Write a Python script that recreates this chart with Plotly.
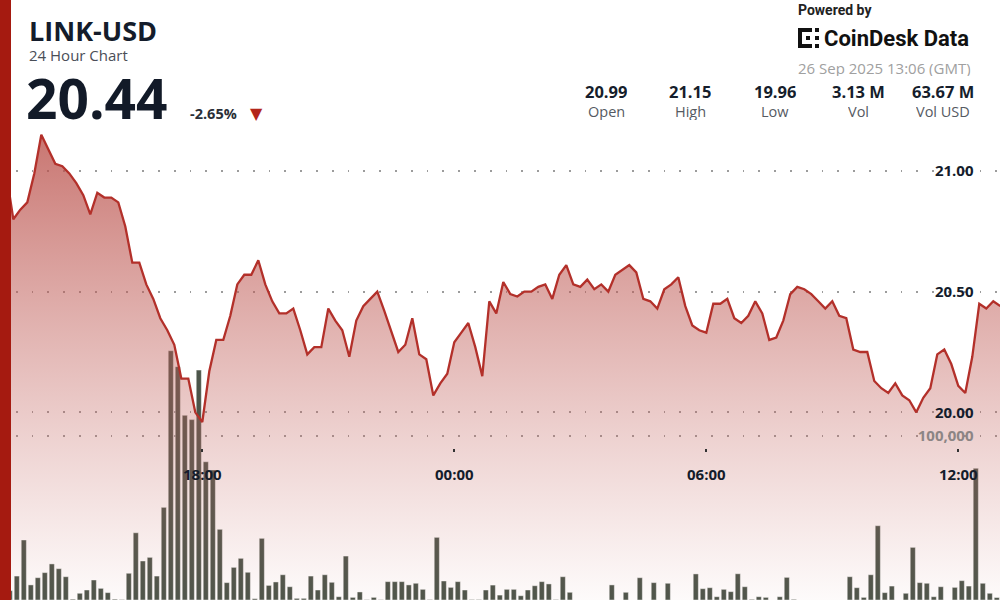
import pandas as pd
import plotly.graph_objects as go

# LINK-USD, 10-minute samples from 25 Sep 2025 13:20 to 26 Sep 2025 13:00 (GMT)
start_time = "2025-09-25 13:20"

price = [
    20.99, 20.80, 20.84, 20.87, 20.99, 21.15, 21.09, 21.03, 21.02, 20.99,
    20.95, 20.90, 20.82, 20.91, 20.89, 20.89, 20.87, 20.77, 20.62, 20.62,
    20.53, 20.47, 20.39, 20.34, 20.28, 20.14, 20.14, 20.00, 19.96, 20.17,
    20.30, 20.30, 20.40, 20.53, 20.57, 20.57, 20.63, 20.53, 20.46, 20.41,
    20.41, 20.43, 20.34, 20.24, 20.27, 20.27, 20.43, 20.38, 20.34, 20.23,
    20.38, 20.44, 20.47, 20.50, 20.42, 20.33, 20.25, 20.28, 20.39, 20.24,
    20.22, 20.07, 20.12, 20.16, 20.29, 20.33, 20.37, 20.27, 20.15, 20.46,
    20.41, 20.54, 20.49, 20.48, 20.50, 20.50, 20.52, 20.53, 20.47, 20.57,
    20.61, 20.53, 20.52, 20.55, 20.51, 20.53, 20.50, 20.57, 20.59, 20.61,
    20.58, 20.47, 20.46, 20.43, 20.51, 20.53, 20.56, 20.44, 20.36, 20.34,
    20.33, 20.45, 20.45, 20.47, 20.39, 20.37, 20.40, 20.46, 20.41, 20.30,
    20.31, 20.38, 20.49, 20.52, 20.51, 20.49, 20.46, 20.43, 20.46, 20.40,
    20.39, 20.26, 20.25, 20.25, 20.13, 20.10, 20.08, 20.12, 20.07, 20.05,
    20.00, 20.06, 20.10, 20.24, 20.26, 20.20, 20.11, 20.08, 20.23, 20.45,
    20.43, 20.46, 20.44,
]

# traded volume (LINK) in the 10 minutes up to each sample
volume = [
    0, 5700, 14600, 36600, 9200, 13600, 16700, 22000, 19100, 14200,
    500, 4100, 6100, 12200, 7100, 4500, 500, 300, 16300, 41000,
    23800, 26000, 14600, 56500, 152000, 142300, 112600, 110000, 140200, 84300,
    79300, 43100, 10600, 19900, 25400, 16900, 800, 37600, 8900, 11000,
    15400, 8100, 1000, 1000, 14600, 6100, 15400, 10800, 2000, 26800,
    1600, 4900, 200, 1600, 200, 11200, 11200, 11200, 9200, 10200,
    6500, 300, 38200, 11600, 7700, 11200, 6100, 300, 300, 6100,
    9100, 3000, 6500, 6500, 2600, 6100, 8700, 11200, 9800, 300,
    14200, 4700, 0, 0, 0, 0, 0, 9200, 0, 4700,
    0, 13600, 0, 10600, 0, 10200, 0, 0, 0, 15900,
    6900, 7500, 2000, 6500, 5100, 16000, 8100, 400, 2000, 1600,
    0, 2000, 13800, 400, 0, 0, 0, 0, 0, 0,
    0, 14200, 7500, 1600, 15400, 45300, 4500, 8500, 0, 4100,
    32100, 10600, 10200, 2000, 8100, 0, 7700, 11800, 8500, 80300,
    10200, 4100, 1500,
]

x_ticks = ["2025-09-25 18:00", "2025-09-26 00:00", "2025-09-26 06:00", "2025-09-26 12:00"]
x_tick_labels = ["18:00", "00:00", "06:00", "12:00"]
price_ticks = [20.00, 20.50, 21.00]
volume_ticks = [100000]
volume_tick_labels = ["100,000"]

stat_values = ["20.99", "21.15", "19.96", "3.13 M", "63.67 M"]
stat_names = ["Open", "High", "Low", "Vol", "Vol USD"]

times = pd.date_range(start_time, periods=len(price), freq="10min")
bar_times = times - pd.Timedelta(minutes=5)  # bar sits in the middle of its bucket

NAVY = "#141c2b"
RED = "#b3302a"

fig = go.Figure()

fig.add_trace(go.Bar(
    x=bar_times, y=volume, yaxis="y",
    width=440000,
    marker=dict(color="#4c554a", line=dict(color="rgba(255,255,255,0.45)", width=1)),
    hoverinfo="skip",
))

fig.add_trace(go.Scatter(
    x=times, y=price, yaxis="y2", mode="lines",
    line=dict(color=RED, width=2.3),
    fill="tozeroy",
    fillgradient=dict(
        type="vertical",
        colorscale=[[0, "rgba(200,110,105,0.03)"], [1, "rgba(185,78,72,0.78)"]],
        start=19.22, stop=21.16,
    ),
    hoverinfo="skip",
))

grid = dict(showgrid=True, gridcolor="#9c9c9c", gridwidth=1.8, griddash="1.8px,14px")
# value labels sit just left of the right edge (axis pinned at x=972px, labels outside to its left)
ylabels = dict(side="left", anchor="free", position=0.9735, ticks="",
               zeroline=False, showline=False)

fig.update_layout(
    width=1000, height=600,
    margin=dict(l=0, r=0, t=0, b=0),
    paper_bgcolor="white", plot_bgcolor="white",
    showlegend=False, hovermode=False,
    font=dict(family="Open Sans", color=NAVY),
    xaxis=dict(
        type="date", range=["2025-09-25 13:11:00", "2025-09-26 12:59:36"],
        anchor="free", position=0.2533,
        tickvals=x_ticks, ticktext=x_tick_labels,
        ticks="outside", ticklen=3, tickwidth=1.5, tickcolor="#333",
        ticklabelstandoff=10,
        tickfont=dict(size=15, color=NAVY, weight="bold"),
        showgrid=False, showline=False, zeroline=False,
    ),
    yaxis=dict(
        range=[0, 365854],
        tickvals=volume_ticks, ticktext=volume_tick_labels,
        tickfont=dict(size=15, color="#8c8585", weight="bold"),
        **ylabels, **grid,
    ),
    yaxis2=dict(
        range=[19.2222, 21.7087], overlaying="y",
        tickvals=price_ticks, tickformat=".2f",
        tickfont=dict(size=15, color=NAVY, weight="bold"),
        **ylabels, **grid,
    ),
)


def px_label(text, x, y, size, color=NAVY, bold=False, xanchor="left", family="Open Sans", height=None):
    fig.add_annotation(
        text=text, xref="paper", yref="paper", x=x / 1000, y=1 - y / 600,
        xanchor=xanchor, yanchor="middle", showarrow=False, borderpad=0, height=height,
        font=dict(size=size, color=color, family=family, weight="bold" if bold else "normal"),
    )


def px_rect(x0, y0, x1, y1, color):
    fig.add_shape(
        type="rect", xref="paper", yref="paper", layer="above",
        x0=x0 / 1000, x1=x1 / 1000, y0=1 - y1 / 600, y1=1 - y0 / 600,
        fillcolor=color, line_width=0,
    )


# header
px_label("LINK-USD", 28, 30, 27, bold=True, height=28)
px_label("24 Hour Chart", 28, 55, 15, color="#4a4e57", height=16)
px_label("20.44", 25, 97, 55, color="#121a28", bold=True, height=52)
px_label("-2.65%", 189, 114, 14.5, color="#2a2f38", bold=True)
px_label("▼", 256, 113, 16, color="#b3261a", xanchor="center", family="DejaVu Sans")

# powered by block
px_label("Powered by", 797, 10, 14, color="#222", bold=True, family="Roboto", height=16)
px_label("CoinDesk Data", 823, 38, 22, color="#111", bold=True, family="Roboto", height=24)
px_label("26 Sep 2025 13:06 (GMT)", 972, 67, 15, color="#a0a0a0", xanchor="right", height=17)
for x0, y0, x1, y1 in [(798, 28, 802, 48), (802, 28, 812, 32), (802, 44, 812, 48),
                       (806, 36, 810, 40), (815, 28, 819, 32), (815, 36, 819, 40),
                       (815, 44, 819, 48)]:
    px_rect(x0, y0, x1, y1, "#111")

# open / high / low / volume row
for i, (val, name) in enumerate(zip(stat_values, stat_names)):
    cx = 606 + i * 84.3
    px_label(val, cx, 91, 16.5, color="#161e2c", bold=True, xanchor="center", height=18)
    px_label(name, cx, 112, 14.5, color="#555a62", xanchor="center", height=17)

# red accent strip on the left edge
px_rect(0, 0, 11, 600, "#a51a10")

# the page body has a default 8px margin; drop it so the chart fills the window
fig.write_html("out.html", config={"displayModeBar": False},
               post_script="document.body.style.margin='0';")
